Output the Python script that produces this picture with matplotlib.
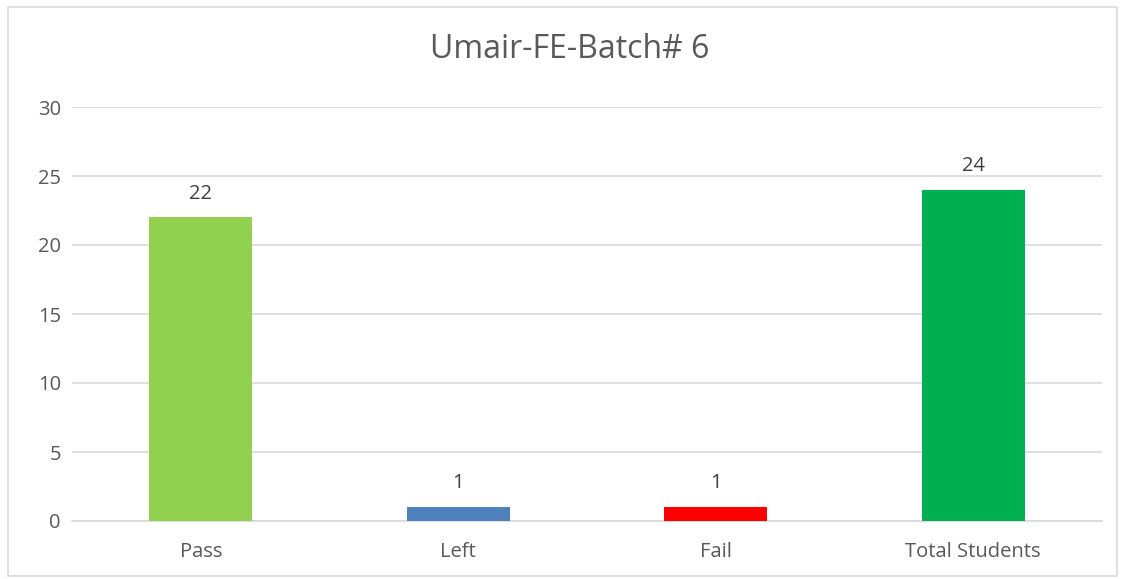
import matplotlib
matplotlib.use("Agg")
import matplotlib.pyplot as plt
from matplotlib.patches import Rectangle

# Данные
categories = ["Pass", "Left", "Fail", "Total Students"]
values = [22, 1, 1, 24]
colors = ["#92D050", "#4F81BD", "#FF0000", "#00B050"]
y_ticks = [0, 5, 10, 15, 20, 25, 30]

plt.rcParams['font.family'] = ['Open Sans', 'DejaVu Sans']

fig = plt.figure(figsize=(11.23, 5.79), dpi=100)
ax = fig.add_axes([72 / 1123, 1 - 521 / 579, 1030 / 1123, 414 / 579])

x = range(len(categories))
bars = ax.bar(x, values, width=0.4, color=colors, zorder=3)

# Подписи значений
for b, v in zip(bars, values):
    ax.annotate(str(v), (b.get_x() + b.get_width() / 2, v), xytext=(0, 10),
                textcoords='offset points', ha='center', va='bottom',
                fontsize=14.5, color='#404040')

ax.set_xlim(-0.5, 3.5)
ax.set_ylim(0, 30)
ax.set_yticks(y_ticks)
ax.set_xticks(list(x))
ax.set_xticklabels(categories)
ax.tick_params(axis='both', length=0, labelsize=14.5, labelcolor='#595959')
ax.tick_params(axis='y', pad=8)
ax.tick_params(axis='x', pad=15)

# Линии сетки
ax.grid(axis='y', color='#D9D9D9', linewidth=1.2, zorder=0)
for s in ['top', 'right', 'left']:
    ax.spines[s].set_visible(False)
ax.spines['bottom'].set_color('#D9D9D9')
ax.spines['bottom'].set_linewidth(1.2)

fig.text(570 / 1123, 1 - 50 / 579, "Umair-FE-Batch# 6", ha='center', va='center',
         fontsize=23, color='#595959')

# Рамка
fig.patches.append(Rectangle((8 / 1123, 3 / 579), 1109 / 1123, 569 / 579,
                             transform=fig.transFigure, fill=False,
                             edgecolor='#D9D9D9', linewidth=1.2))

fig.savefig("out.png", dpi=100)
